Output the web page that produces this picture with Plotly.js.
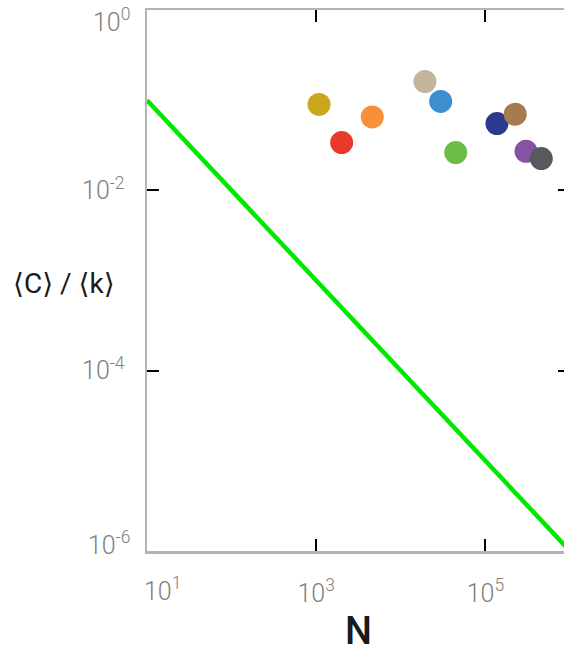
<!DOCTYPE html>
<html>
<head>
<meta charset="utf-8">
<script src="https://cdn.plot.ly/plotly-3.0.1.min.js"></script>
<style>
html,body{margin:0;padding:0;overflow:hidden;background:#fff;}
#chart{width:570px;height:653px;}
</style>
</head>
<body>
<div id="chart"></div>
<script>
// Data
const pointN = [1080, 2000, 4600, 19300, 29600, 44600, 137000, 225000, 302000, 458000];
const pointC = [0.0896, 0.0339, 0.0652, 0.161, 0.0968, 0.0262, 0.0551, 0.0699, 0.0271, 0.0225];
const pointColors = ['#CBA71C', '#E8392A', '#F6903A', '#C3B59B', '#3E8ECF', '#6BBD46', '#2B3A8F', '#A67B4F', '#8453A1', '#58595B'];
const lineN = [10, 1000000];
const lineC = [0.1, 0.000001];
const xTickVals = [10, 1000, 100000];
const xTickText = ['', '10<sup>3</sup>', '10<sup>5</sup>'];
const yTickVals = [1, 0.01, 0.0001, 0.000001];
const yTickText = ['', '10<sup>-2</sup>', '10<sup>-4</sup>', ''];

const tickFont = {family: 'Roboto, "Open Sans", sans-serif', size: 25, color: '#808080', weight: 300};

const traces = [
  {
    x: lineN, y: lineC, mode: 'lines', type: 'scatter',
    line: {color: '#00E800', width: 4.5}, hoverinfo: 'skip', showlegend: false
  },
  {
    x: pointN, y: pointC, mode: 'markers', type: 'scatter',
    marker: {size: 23, color: pointColors, line: {width: 0}},
    showlegend: false
  }
];

const axisCommon = {
  type: 'log',
  showgrid: false,
  zeroline: false,
  showline: true,
  linecolor: '#b4b4b4',
  linewidth: 2.5,
  mirror: 'ticks',
  ticks: 'inside',
  ticklen: 12,
  tickwidth: 2,
  tickcolor: '#000',
  tickmode: 'array',
  tickfont: tickFont
};

const layout = {
  width: 570,
  height: 653,
  margin: {l: 147, r: 0, t: 10, b: 102},
  paper_bgcolor: '#fff',
  plot_bgcolor: '#fff',
  xaxis: Object.assign({}, axisCommon, {
    range: [1, 6],
    tickvals: xTickVals,
    ticktext: xTickText,
    ticklabelstandoff: 18,
    title: {text: 'N', font: {family: 'Roboto, sans-serif', size: 38, color: '#1a1a1a', weight: 500}, standoff: 31}
  }),
  yaxis: Object.assign({}, axisCommon, {
    range: [-6, 0],
    tickvals: yTickVals,
    ticktext: yTickText,
    ticklabelstandoff: 15,
    title: {text: ''}
  }),
  annotations: [
    {text: '10<sup>1</sup>', xref: 'x', yref: 'paper', x: 1, y: 0, xanchor: 'center', yanchor: 'top',
     xshift: 15, yshift: -20, showarrow: false, font: tickFont},
    {text: '10<sup>0</sup>', xref: 'paper', yref: 'y', x: 0, y: 0, xanchor: 'right', yanchor: 'middle',
     xshift: -15, yshift: -10, showarrow: false, font: tickFont},
    {text: '10<sup>-6</sup>', xref: 'paper', yref: 'y', x: 0, y: -6, xanchor: 'right', yanchor: 'middle',
     xshift: -15, yshift: 8, showarrow: false, font: tickFont},
    {text: '\u27E8C\u27E9 / \u27E8k\u27E9', xref: 'paper', yref: 'paper', x: 0, y: 0.5, xanchor: 'right', yanchor: 'middle',
     xshift: -30, yshift: -3, showarrow: false,
     font: {family: 'Roboto, "DejaVu Sans", sans-serif', size: 28, color: '#1a1a1a', weight: 400}}
  ]
};

Plotly.newPlot('chart', traces, layout, {displayModeBar: false, staticPlot: true});
</script>
</body>
</html>
